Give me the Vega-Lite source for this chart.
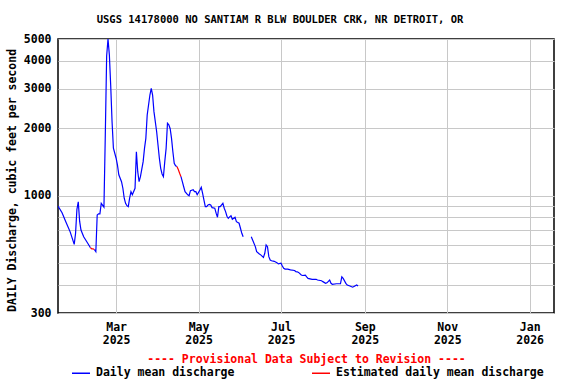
{
  "$schema": "https://vega.github.io/schema/vega-lite/v6.json",
  "width": 496,
  "height": 274,
  "autosize": "none",
  "padding": {"left": 58, "top": 39, "right": 22, "bottom": 71},
  "background": "white",
  "title": {
    "text": "USGS 14178000 NO SANTIAM R BLW BOULDER CRK, NR DETROIT, OR",
    "font": "DejaVu Sans Mono", "fontSize": 10.5, "fontWeight": "bold", "color": "black",
    "anchor": "middle", "frame": "bounds", "offset": 8
  },
  "config": {
    "view": {"stroke": "black", "strokeWidth": 1.5},
    "font": "DejaVu Sans Mono"
  },
  "data": {
    "values": [
      {"date": "2025-01-17", "q": 900, "type": "Daily mean discharge", "seg": "A"},
      {"date": "2025-01-20", "q": 840, "type": "Daily mean discharge", "seg": "A"},
      {"date": "2025-01-23", "q": 760, "type": "Daily mean discharge", "seg": "A"},
      {"date": "2025-01-26", "q": 690, "type": "Daily mean discharge", "seg": "A"},
      {"date": "2025-01-29", "q": 607, "type": "Daily mean discharge", "seg": "A"},
      {"date": "2025-01-30", "q": 680, "type": "Daily mean discharge", "seg": "A"},
      {"date": "2025-01-31", "q": 870, "type": "Daily mean discharge", "seg": "A"},
      {"date": "2025-02-01", "q": 940, "type": "Daily mean discharge", "seg": "A"},
      {"date": "2025-02-02", "q": 770, "type": "Daily mean discharge", "seg": "A"},
      {"date": "2025-02-03", "q": 703, "type": "Daily mean discharge", "seg": "A"},
      {"date": "2025-02-05", "q": 656, "type": "Daily mean discharge", "seg": "A"},
      {"date": "2025-02-08", "q": 614, "type": "Daily mean discharge", "seg": "A"},
      {"date": "2025-02-10", "q": 586, "type": "Daily mean discharge", "seg": "A"},
      {"date": "2025-02-10", "q": 586, "type": "Estimated daily mean discharge", "seg": "B"},
      {"date": "2025-02-11", "q": 580, "type": "Estimated daily mean discharge", "seg": "B"},
      {"date": "2025-02-12", "q": 580, "type": "Estimated daily mean discharge", "seg": "B"},
      {"date": "2025-02-13", "q": 575, "type": "Estimated daily mean discharge", "seg": "B"},
      {"date": "2025-02-13", "q": 575, "type": "Daily mean discharge", "seg": "C"},
      {"date": "2025-02-14", "q": 563, "type": "Daily mean discharge", "seg": "C"},
      {"date": "2025-02-15", "q": 820, "type": "Daily mean discharge", "seg": "C"},
      {"date": "2025-02-16", "q": 830, "type": "Daily mean discharge", "seg": "C"},
      {"date": "2025-02-17", "q": 830, "type": "Daily mean discharge", "seg": "C"},
      {"date": "2025-02-18", "q": 925, "type": "Daily mean discharge", "seg": "C"},
      {"date": "2025-02-20", "q": 890, "type": "Daily mean discharge", "seg": "C"},
      {"date": "2025-02-21", "q": 1866, "type": "Daily mean discharge", "seg": "C"},
      {"date": "2025-02-22", "q": 4200, "type": "Daily mean discharge", "seg": "C"},
      {"date": "2025-02-23", "q": 5000, "type": "Daily mean discharge", "seg": "C"},
      {"date": "2025-02-24", "q": 4250, "type": "Daily mean discharge", "seg": "C"},
      {"date": "2025-02-25", "q": 3100, "type": "Daily mean discharge", "seg": "C"},
      {"date": "2025-02-26", "q": 2140, "type": "Daily mean discharge", "seg": "C"},
      {"date": "2025-02-27", "q": 1630, "type": "Daily mean discharge", "seg": "C"},
      {"date": "2025-03-01", "q": 1470, "type": "Daily mean discharge", "seg": "C"},
      {"date": "2025-03-02", "q": 1370, "type": "Daily mean discharge", "seg": "C"},
      {"date": "2025-03-03", "q": 1240, "type": "Daily mean discharge", "seg": "C"},
      {"date": "2025-03-05", "q": 1155, "type": "Daily mean discharge", "seg": "C"},
      {"date": "2025-03-06", "q": 1080, "type": "Daily mean discharge", "seg": "C"},
      {"date": "2025-03-07", "q": 975, "type": "Daily mean discharge", "seg": "C"},
      {"date": "2025-03-08", "q": 925, "type": "Daily mean discharge", "seg": "C"},
      {"date": "2025-03-09", "q": 903, "type": "Daily mean discharge", "seg": "C"},
      {"date": "2025-03-10", "q": 894, "type": "Daily mean discharge", "seg": "C"},
      {"date": "2025-03-11", "q": 975, "type": "Daily mean discharge", "seg": "C"},
      {"date": "2025-03-12", "q": 1043, "type": "Daily mean discharge", "seg": "C"},
      {"date": "2025-03-13", "q": 1010, "type": "Daily mean discharge", "seg": "C"},
      {"date": "2025-03-15", "q": 1080, "type": "Daily mean discharge", "seg": "C"},
      {"date": "2025-03-16", "q": 1572, "type": "Daily mean discharge", "seg": "C"},
      {"date": "2025-03-17", "q": 1280, "type": "Daily mean discharge", "seg": "C"},
      {"date": "2025-03-18", "q": 1155, "type": "Daily mean discharge", "seg": "C"},
      {"date": "2025-03-19", "q": 1216, "type": "Daily mean discharge", "seg": "C"},
      {"date": "2025-03-21", "q": 1419, "type": "Daily mean discharge", "seg": "C"},
      {"date": "2025-03-22", "q": 1627, "type": "Daily mean discharge", "seg": "C"},
      {"date": "2025-03-23", "q": 1803, "type": "Daily mean discharge", "seg": "C"},
      {"date": "2025-03-24", "q": 2291, "type": "Daily mean discharge", "seg": "C"},
      {"date": "2025-03-26", "q": 2813, "type": "Daily mean discharge", "seg": "C"},
      {"date": "2025-03-27", "q": 3013, "type": "Daily mean discharge", "seg": "C"},
      {"date": "2025-03-28", "q": 2813, "type": "Daily mean discharge", "seg": "C"},
      {"date": "2025-03-29", "q": 2372, "type": "Daily mean discharge", "seg": "C"},
      {"date": "2025-03-31", "q": 1930, "type": "Daily mean discharge", "seg": "C"},
      {"date": "2025-04-01", "q": 1683, "type": "Daily mean discharge", "seg": "C"},
      {"date": "2025-04-02", "q": 1469, "type": "Daily mean discharge", "seg": "C"},
      {"date": "2025-04-03", "q": 1325, "type": "Daily mean discharge", "seg": "C"},
      {"date": "2025-04-04", "q": 1250, "type": "Daily mean discharge", "seg": "C"},
      {"date": "2025-04-05", "q": 1216, "type": "Daily mean discharge", "seg": "C"},
      {"date": "2025-04-06", "q": 1419, "type": "Daily mean discharge", "seg": "C"},
      {"date": "2025-04-07", "q": 1627, "type": "Daily mean discharge", "seg": "C"},
      {"date": "2025-04-08", "q": 2105, "type": "Daily mean discharge", "seg": "C"},
      {"date": "2025-04-09", "q": 2070, "type": "Daily mean discharge", "seg": "C"},
      {"date": "2025-04-10", "q": 1990, "type": "Daily mean discharge", "seg": "C"},
      {"date": "2025-04-11", "q": 1803, "type": "Daily mean discharge", "seg": "C"},
      {"date": "2025-04-12", "q": 1572, "type": "Daily mean discharge", "seg": "C"},
      {"date": "2025-04-13", "q": 1396, "type": "Daily mean discharge", "seg": "C"},
      {"date": "2025-04-14", "q": 1360, "type": "Daily mean discharge", "seg": "C"},
      {"date": "2025-04-15", "q": 1350, "type": "Daily mean discharge", "seg": "C"},
      {"date": "2025-04-15", "q": 1350, "type": "Estimated daily mean discharge", "seg": "D"},
      {"date": "2025-04-16", "q": 1310, "type": "Estimated daily mean discharge", "seg": "D"},
      {"date": "2025-04-17", "q": 1260, "type": "Estimated daily mean discharge", "seg": "D"},
      {"date": "2025-04-18", "q": 1216, "type": "Estimated daily mean discharge", "seg": "D"},
      {"date": "2025-04-18", "q": 1216, "type": "Daily mean discharge", "seg": "E"},
      {"date": "2025-04-19", "q": 1155, "type": "Daily mean discharge", "seg": "E"},
      {"date": "2025-04-20", "q": 1097, "type": "Daily mean discharge", "seg": "E"},
      {"date": "2025-04-21", "q": 1043, "type": "Daily mean discharge", "seg": "E"},
      {"date": "2025-04-23", "q": 1010, "type": "Daily mean discharge", "seg": "E"},
      {"date": "2025-04-24", "q": 1000, "type": "Daily mean discharge", "seg": "E"},
      {"date": "2025-04-25", "q": 1054, "type": "Daily mean discharge", "seg": "E"},
      {"date": "2025-04-27", "q": 1065, "type": "Daily mean discharge", "seg": "E"},
      {"date": "2025-04-28", "q": 1043, "type": "Daily mean discharge", "seg": "E"},
      {"date": "2025-04-29", "q": 1043, "type": "Daily mean discharge", "seg": "E"},
      {"date": "2025-04-30", "q": 1010, "type": "Daily mean discharge", "seg": "E"},
      {"date": "2025-05-02", "q": 1060, "type": "Daily mean discharge", "seg": "E"},
      {"date": "2025-05-03", "q": 1090, "type": "Daily mean discharge", "seg": "E"},
      {"date": "2025-05-04", "q": 1025, "type": "Daily mean discharge", "seg": "E"},
      {"date": "2025-05-05", "q": 957, "type": "Daily mean discharge", "seg": "E"},
      {"date": "2025-05-06", "q": 894, "type": "Daily mean discharge", "seg": "E"},
      {"date": "2025-05-07", "q": 894, "type": "Daily mean discharge", "seg": "E"},
      {"date": "2025-05-08", "q": 910, "type": "Daily mean discharge", "seg": "E"},
      {"date": "2025-05-09", "q": 915, "type": "Daily mean discharge", "seg": "E"},
      {"date": "2025-05-10", "q": 910, "type": "Daily mean discharge", "seg": "E"},
      {"date": "2025-05-11", "q": 885, "type": "Daily mean discharge", "seg": "E"},
      {"date": "2025-05-13", "q": 880, "type": "Daily mean discharge", "seg": "E"},
      {"date": "2025-05-14", "q": 836, "type": "Daily mean discharge", "seg": "E"},
      {"date": "2025-05-15", "q": 802, "type": "Daily mean discharge", "seg": "E"},
      {"date": "2025-05-16", "q": 894, "type": "Daily mean discharge", "seg": "E"},
      {"date": "2025-05-17", "q": 894, "type": "Daily mean discharge", "seg": "E"},
      {"date": "2025-05-19", "q": 925, "type": "Daily mean discharge", "seg": "E"},
      {"date": "2025-05-20", "q": 880, "type": "Daily mean discharge", "seg": "E"},
      {"date": "2025-05-21", "q": 850, "type": "Daily mean discharge", "seg": "E"},
      {"date": "2025-05-22", "q": 810, "type": "Daily mean discharge", "seg": "E"},
      {"date": "2025-05-23", "q": 793, "type": "Daily mean discharge", "seg": "E"},
      {"date": "2025-05-24", "q": 805, "type": "Daily mean discharge", "seg": "E"},
      {"date": "2025-05-25", "q": 815, "type": "Daily mean discharge", "seg": "E"},
      {"date": "2025-05-26", "q": 785, "type": "Daily mean discharge", "seg": "E"},
      {"date": "2025-05-28", "q": 802, "type": "Daily mean discharge", "seg": "E"},
      {"date": "2025-05-29", "q": 766, "type": "Daily mean discharge", "seg": "E"},
      {"date": "2025-05-31", "q": 754, "type": "Daily mean discharge", "seg": "E"},
      {"date": "2025-06-01", "q": 716, "type": "Daily mean discharge", "seg": "E"},
      {"date": "2025-06-02", "q": 680, "type": "Daily mean discharge", "seg": "E"},
      {"date": "2025-06-03", "q": 656, "type": "Daily mean discharge", "seg": "E"},
      {"date": "2025-06-09", "q": 656, "type": "Daily mean discharge", "seg": "F"},
      {"date": "2025-06-10", "q": 635, "type": "Daily mean discharge", "seg": "F"},
      {"date": "2025-06-12", "q": 593, "type": "Daily mean discharge", "seg": "F"},
      {"date": "2025-06-13", "q": 563, "type": "Daily mean discharge", "seg": "F"},
      {"date": "2025-06-15", "q": 550, "type": "Daily mean discharge", "seg": "F"},
      {"date": "2025-06-16", "q": 545, "type": "Daily mean discharge", "seg": "F"},
      {"date": "2025-06-18", "q": 531, "type": "Daily mean discharge", "seg": "F"},
      {"date": "2025-06-19", "q": 554, "type": "Daily mean discharge", "seg": "F"},
      {"date": "2025-06-20", "q": 603, "type": "Daily mean discharge", "seg": "F"},
      {"date": "2025-06-21", "q": 593, "type": "Daily mean discharge", "seg": "F"},
      {"date": "2025-06-22", "q": 535, "type": "Daily mean discharge", "seg": "F"},
      {"date": "2025-06-23", "q": 517, "type": "Daily mean discharge", "seg": "F"},
      {"date": "2025-06-24", "q": 513, "type": "Daily mean discharge", "seg": "F"},
      {"date": "2025-06-26", "q": 510, "type": "Daily mean discharge", "seg": "F"},
      {"date": "2025-06-28", "q": 503, "type": "Daily mean discharge", "seg": "F"},
      {"date": "2025-06-29", "q": 497, "type": "Daily mean discharge", "seg": "F"},
      {"date": "2025-07-01", "q": 500, "type": "Daily mean discharge", "seg": "F"},
      {"date": "2025-07-02", "q": 486, "type": "Daily mean discharge", "seg": "F"},
      {"date": "2025-07-03", "q": 475, "type": "Daily mean discharge", "seg": "F"},
      {"date": "2025-07-04", "q": 471, "type": "Daily mean discharge", "seg": "F"},
      {"date": "2025-07-06", "q": 471, "type": "Daily mean discharge", "seg": "F"},
      {"date": "2025-07-08", "q": 467, "type": "Daily mean discharge", "seg": "F"},
      {"date": "2025-07-11", "q": 464, "type": "Daily mean discharge", "seg": "F"},
      {"date": "2025-07-12", "q": 459, "type": "Daily mean discharge", "seg": "F"},
      {"date": "2025-07-13", "q": 458, "type": "Daily mean discharge", "seg": "F"},
      {"date": "2025-07-14", "q": 455, "type": "Daily mean discharge", "seg": "F"},
      {"date": "2025-07-16", "q": 443, "type": "Daily mean discharge", "seg": "F"},
      {"date": "2025-07-17", "q": 441, "type": "Daily mean discharge", "seg": "F"},
      {"date": "2025-07-19", "q": 443, "type": "Daily mean discharge", "seg": "F"},
      {"date": "2025-07-20", "q": 435, "type": "Daily mean discharge", "seg": "F"},
      {"date": "2025-07-21", "q": 428, "type": "Daily mean discharge", "seg": "F"},
      {"date": "2025-07-24", "q": 424, "type": "Daily mean discharge", "seg": "F"},
      {"date": "2025-07-27", "q": 424, "type": "Daily mean discharge", "seg": "F"},
      {"date": "2025-07-28", "q": 421, "type": "Daily mean discharge", "seg": "F"},
      {"date": "2025-07-31", "q": 418, "type": "Daily mean discharge", "seg": "F"},
      {"date": "2025-08-01", "q": 414, "type": "Daily mean discharge", "seg": "F"},
      {"date": "2025-08-03", "q": 407, "type": "Daily mean discharge", "seg": "F"},
      {"date": "2025-08-04", "q": 409, "type": "Daily mean discharge", "seg": "F"},
      {"date": "2025-08-06", "q": 421, "type": "Daily mean discharge", "seg": "F"},
      {"date": "2025-08-07", "q": 407, "type": "Daily mean discharge", "seg": "F"},
      {"date": "2025-08-08", "q": 403, "type": "Daily mean discharge", "seg": "F"},
      {"date": "2025-08-11", "q": 405, "type": "Daily mean discharge", "seg": "F"},
      {"date": "2025-08-13", "q": 405, "type": "Daily mean discharge", "seg": "F"},
      {"date": "2025-08-14", "q": 405, "type": "Daily mean discharge", "seg": "F"},
      {"date": "2025-08-15", "q": 435, "type": "Daily mean discharge", "seg": "F"},
      {"date": "2025-08-16", "q": 428, "type": "Daily mean discharge", "seg": "F"},
      {"date": "2025-08-18", "q": 407, "type": "Daily mean discharge", "seg": "F"},
      {"date": "2025-08-19", "q": 400, "type": "Daily mean discharge", "seg": "F"},
      {"date": "2025-08-21", "q": 396, "type": "Daily mean discharge", "seg": "F"},
      {"date": "2025-08-23", "q": 391, "type": "Daily mean discharge", "seg": "F"},
      {"date": "2025-08-24", "q": 394, "type": "Daily mean discharge", "seg": "F"},
      {"date": "2025-08-26", "q": 400, "type": "Daily mean discharge", "seg": "F"},
      {"date": "2025-08-27", "q": 396, "type": "Daily mean discharge", "seg": "F"}
    ]
  },
  "mark": {"type": "line", "strokeWidth": 1.2, "clip": true},
  "encoding": {
    "x": {
      "field": "date", "type": "temporal",
      "scale": {"type": "utc", "domain": [{"year": 2025, "month": 1, "date": 17, "utc": true}, {"year": 2026, "month": 1, "date": 19, "utc": true}]},
      "axis": {
        "values": [
          {"year": 2025, "month": 3, "date": 1, "utc": true},
          {"year": 2025, "month": 5, "date": 1, "utc": true},
          {"year": 2025, "month": 7, "date": 1, "utc": true},
          {"year": 2025, "month": 9, "date": 1, "utc": true},
          {"year": 2025, "month": 11, "date": 1, "utc": true},
          {"year": 2026, "month": 1, "date": 1, "utc": true}
        ],
        "labelExpr": "[utcFormat(datum.value, '%b'), utcFormat(datum.value, '%Y')]",
        "grid": true, "gridColor": "#c8c8c8", "gridWidth": 1,
        "ticks": false, "domain": false,
        "labelFont": "DejaVu Sans Mono", "labelFontWeight": "bold", "labelFontSize": 11.5, "labelColor": "black",
        "labelPadding": 8, "labelLineHeight": 13, "labelBaseline": "top", "labelFlush": false, "labelOverlap": false,
        "title": "---- Provisional Data Subject to Revision ----",
        "titleColor": "#ff0000", "titleFont": "DejaVu Sans Mono", "titleFontSize": 11.5, "titleFontWeight": "bold",
        "titleY": 46, "titleBaseline": "middle"
      }
    },
    "y": {
      "field": "q", "type": "quantitative",
      "scale": {"type": "log", "domain": [300, 5000], "nice": false},
      "axis": {
        "values": [300, 400, 500, 600, 700, 800, 900, 1000, 2000, 3000, 4000, 5000],
        "labelExpr": "indexof([300, 1000, 2000, 3000, 4000, 5000], datum.value) >= 0 ? format(datum.value, 'd') : ''",
        "grid": true, "gridColor": "#c8c8c8", "gridWidth": 1,
        "ticks": false, "domain": false,
        "labelFont": "DejaVu Sans Mono", "labelFontWeight": "bold", "labelFontSize": 11.5, "labelColor": "black",
        "labelPadding": 7, "labelFlush": false, "labelOverlap": false,
        "title": "DAILY Discharge, cubic feet per second",
        "titleFont": "DejaVu Sans Mono", "titleFontSize": 11.5, "titleFontWeight": "bold", "titleColor": "black",
        "titleX": -46, "titleY": 141, "titleBaseline": "middle", "titleAngle": -90, "titleAlign": "center"
      }
    },
    "color": {
      "field": "type", "type": "nominal",
      "scale": {"domain": ["Daily mean discharge", "Estimated daily mean discharge"], "range": ["#0000ff", "#ff0000"]},
      "legend": {
        "orient": "none", "direction": "horizontal", "legendX": 13, "legendY": 324,
        "title": null, "symbolType": "stroke", "symbolSize": 324, "symbolStrokeWidth": 1.5,
        "labelFont": "DejaVu Sans Mono", "labelFontSize": 11.5, "labelFontWeight": "bold", "labelColor": "black",
        "labelOffset": 5, "labelLimit": 0, "columnPadding": 74, "padding": 0
      }
    },
    "detail": {"field": "seg", "type": "nominal"}
  }
}
